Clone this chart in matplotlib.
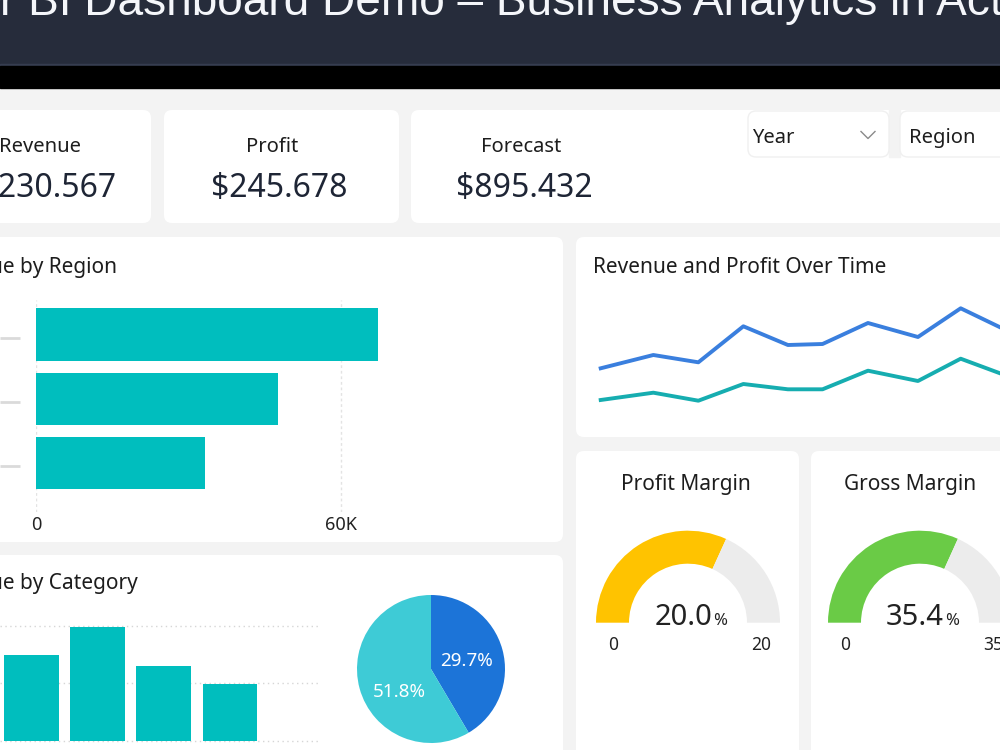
import matplotlib
matplotlib.use("Agg")
import matplotlib.pyplot as plt
from matplotlib.patches import FancyBboxPatch, Rectangle, Wedge

plt.rcParams['font.family'] = ['Noto Sans', 'DejaVu Sans']

# ── DATA ────────────────────────────────────────────────────────────────
kpi_labels = ["Revenue", "Profit", "Forecast"]
kpi_values = ["$1.230.567", "$245.678", "$895.432"]

regions = ["North", "South", "West"]
region_revenue = [67.3, 47.6, 33.2]          # thousands
region_ticks = [0, 60]
region_ticklabels = ["0", "60K"]

time_pos = [0, 1.17, 2.17, 3.17, 4.16, 4.93, 5.94, 7.05, 8.0, 9.0]
revenue_t = [51.7, 65.0, 57.7, 93.7, 75.0, 76.0, 97.0, 83.0, 111.7, 90.0]
profit_t = [20.0, 27.3, 19.3, 36.0, 30.7, 30.7, 49.3, 39.0, 61.3, 44.6]

gauge_titles = ["Profit Margin", "Gross Margin"]
gauge_values = ["20.0", "35.4"]
gauge_fill = [0.636, 0.635]
gauge_min = ["0", "0"]
gauge_max = ["20", "35"]
gauge_colors = ["#ffc300", "#6acb46"]

categories = ["Cat A", "Cat B", "Cat C", "Cat D"]
category_revenue = [30.0, 39.7, 26.2, 19.8]
category_grid = [0, 20, 40]

pie_sizes = [41.5, 58.5]
pie_labels = ["29.7%", "51.8%"]
pie_colors = ["#1c74d8", "#3ecbd6"]

W, H = 1000, 750
BG = "#f3f3f3"
TEAL = "#00bebe"
DARK = "#1e2535"

fig = plt.figure(figsize=(10, 7.5), dpi=100)
fig.patch.set_facecolor(BG)
bg = fig.add_axes([0, 0, 1, 1])
bg.set_xlim(0, W)
bg.set_ylim(H, 0)
bg.axis('off')


def px_axes(x0, y0, x1, y1):
    a = fig.add_axes([x0 / W, 1 - y1 / H, (x1 - x0) / W, (y1 - y0) / H])
    a.patch.set_alpha(0)
    return a


def card(x0, y0, x1, y1, ec="none"):
    bg.add_patch(FancyBboxPatch((x0, y0), x1 - x0, y1 - y0,
                                boxstyle="round,pad=0,rounding_size=8",
                                fc="white", ec=ec, lw=1))


# ── HEADER ──────────────────────────────────────────────────────────────
bg.add_patch(Rectangle((0, 0), W, 65, color="#262c3b"))
bg.add_patch(Rectangle((0, 64), W, 1.5, color="#363d50"))
bg.add_patch(Rectangle((0, 65.5), W, 22, color="black"))

hdr_font = ['Liberation Sans Narrow', 'Liberation Sans', 'DejaVu Sans']
title = "Power BI Dashboard Demo – Business Analytics in Action"
r = fig.canvas.get_renderer()
tmp = fig.text(0, 0, "r BI Dashboard Demo – Business Analytics in Act", fontsize=30, family=hdr_font)
fs = 30 * W / tmp.get_window_extent(r).width
tmp.remove()
tmp = fig.text(0, 0, "Powe", fontsize=fs, family=hdr_font)
pre_w = tmp.get_window_extent(r).width
tmp.remove()
fig.text(-pre_w / W, 1 - 15 / H, title, fontsize=fs, family=hdr_font,
         color="#f4f6fa", va="baseline")

# ── CARDS ───────────────────────────────────────────────────────────────
for c in [(-20, 110, 151, 223), (164, 110, 399, 223), (411, 110, 1030, 223),
          (-20, 237, 563, 542), (576, 237, 1030, 437), (-20, 555, 563, 780),
          (576, 451, 799, 780), (811, 451, 1030, 780)]:
    card(*c)

# dropdown slicers
bg.add_patch(Rectangle((889, 105), 11, 52, color=BG))
card(748, 111, 889, 157, ec="#f0f0f0")
card(900, 111, 1030, 157, ec="#f0f0f0")
bg.text(752, 143, "Year", fontsize=14.5, color="#1d1d1d", va="baseline")
bg.text(909, 143, "Region", fontsize=14.5, color="#1d1d1d", va="baseline")
bg.plot([861, 868, 875], [131.5, 138.5, 131.5], color="#8a8a8a", lw=1)

# KPI texts
kpi_lx = [40, 272, 521]
for lab, x in zip(kpi_labels, kpi_lx):
    bg.text(x, 152, lab, fontsize=14.5, color="#1d1d1d", ha="center", va="baseline")
bg.text(116, 197, kpi_values[0], fontsize=23, color=DARK, ha="right", va="baseline", fontweight="medium")
bg.text(279, 197, kpi_values[1], fontsize=23, color=DARK, ha="center", va="baseline", fontweight="medium")
bg.text(524, 197, kpi_values[2], fontsize=23, color=DARK, ha="center", va="baseline", fontweight="medium")

# ── REVENUE BY REGION ───────────────────────────────────────────────────
bg.text(117, 273, "Revenue by Region", fontsize=15, color="#1d1d1d", ha="right", va="baseline")
ax = px_axes(36, 300, 540, 512)
k = 60 / 305
ax.set_xlim(0, k * 504)
ax.set_ylim(2.762, -0.537)
ax.barh(range(len(regions)), region_revenue, height=0.81, color=TEAL, zorder=2)
for v in region_ticks:
    ax.axvline(v, color="#e3e3e3", lw=1, ls=(0, (2, 2)), zorder=1)
ax.set_xticks(region_ticks, region_ticklabels)
ax.set_yticks([])
ax.tick_params(axis="x", length=0, pad=3, labelsize=13, labelcolor="#222")
for s in ax.spines.values():
    s.set_visible(False)
# blurred region labels, drawn as grey dashes
ax.hlines([i + 0.05 for i in range(len(regions))], -36 / 504, -16 / 504,
          transform=ax.get_yaxis_transform(), clip_on=False, color="#dadada", lw=2)

# ── REVENUE AND PROFIT OVER TIME ────────────────────────────────────────
bg.text(593, 273, "Revenue and Profit Over Time", fontsize=15, color="#1d1d1d", va="baseline")
ax = px_axes(576, 280, 1000, 430)
ax.set_xlim((576 - 600.7) / 45, (1000 - 600.7) / 45)
ax.set_ylim(-10, 140)
ax.plot(time_pos, revenue_t, color="#3a7fde", lw=2.8)
ax.plot(time_pos, profit_t, color="#16adb0", lw=2.8)
ax.axis("off")

# ── GAUGES ──────────────────────────────────────────────────────────────
gauge_cx = [688, 920]
title_cx = [686, 910]
for i in range(2):
    cx = gauge_cx[i]
    bg.text(title_cx[i], 490, gauge_titles[i], fontsize=15, color="#1d1d1d", ha="center", va="baseline")
    ax = px_axes(cx - 100, 520, cx + 100, 660)
    ax.set_xlim(-100, 100)
    ax.set_ylim(-37.3, 102.7)
    ax.axis("off")
    split = 180 - 180 * gauge_fill[i]
    ax.add_patch(Wedge((0, 0), 92, split, 180, width=33, color=gauge_colors[i], lw=0))
    ax.add_patch(Wedge((0, 0), 92, 0, split, width=33, color="#ececec", lw=0))
    ax.text(24, -2, gauge_values[i], fontsize=21, color="#222", ha="right", va="baseline")
    ax.text(25, -2, "%", fontsize=12, color="#222", ha="left", va="baseline")
    ax.text(-75, -27, gauge_min[i], fontsize=12.5, color="#222", ha="center", va="baseline")
    ax.text(73, -27, gauge_max[i], fontsize=12.5, color="#222", ha="center", va="baseline")

# ── REVENUE BY CATEGORY ─────────────────────────────────────────────────
bg.text(138, 589, "Revenue by Category", fontsize=15, color="#1d1d1d", ha="right", va="baseline")
ax = px_axes(0, 600, 320, 750)
ax.set_xlim(-31.8 / 66.07, (320 - 31.8) / 66.07)
ax.set_ylim(-3.25, 49.1)
for g in category_grid:
    ax.axhline(g, color="#d6d6d6", lw=1, ls=(0, (1, 2.5)), zorder=1)
ax.bar(range(len(categories)), category_revenue, width=0.832, color=TEAL, zorder=2)
ax.axis("off")

ax = px_axes(351, 589, 511, 749)
ax.pie(pie_sizes, colors=pie_colors, startangle=90, counterclock=False,
       wedgeprops=dict(lw=0))
lim = 80 / 74
ax.set_xlim(-lim, lim)
ax.set_ylim(-lim, lim)
ax.text(0.483, 0.112, pie_labels[0], fontsize=13.5, color="white", ha="center", va="center")
ax.text(-0.424, -0.315, pie_labels[1], fontsize=13.5, color="white", ha="center", va="center")

fig.savefig("out.png", dpi=100, facecolor=BG)
